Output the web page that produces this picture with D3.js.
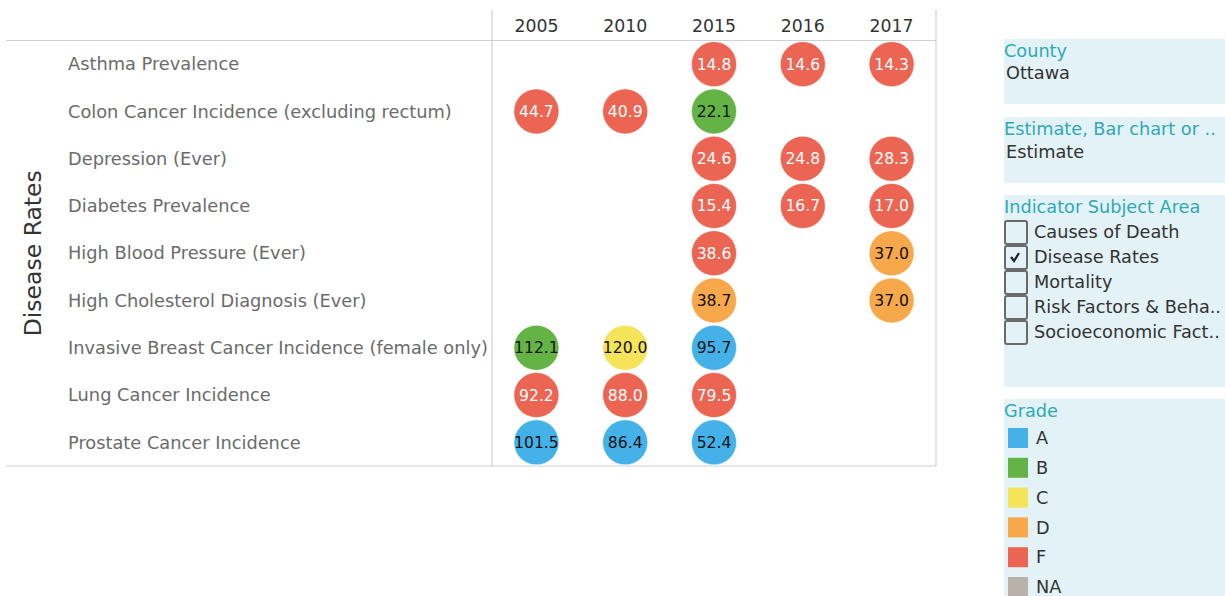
<!DOCTYPE html>
<html>
<head>
<meta charset="utf-8">
<script src="https://cdn.jsdelivr.net/npm/d3@7"></script>
<style>
  body { margin: 0; background: #fff; font-family: "DejaVu Sans", sans-serif; }
</style>
</head>
<body>
<svg id="chart" width="1225" height="596"></svg>
<script>
const width = 1225;
const height = 596;

// data
const years = ["2005", "2010", "2015", "2016", "2017"];
const indicators = [
    "Asthma Prevalence",
    "Colon Cancer Incidence (excluding rectum)",
    "Depression (Ever)",
    "Diabetes Prevalence",
    "High Blood Pressure (Ever)",
    "High Cholesterol Diagnosis (Ever)",
    "Invasive Breast Cancer Incidence (female only)",
    "Lung Cancer Incidence",
    "Prostate Cancer Incidence"
];
// one row per indicator, one entry per year (null = no value)
const values = [
    [null, null, 14.8, 14.6, 14.3],
    [44.7, 40.9, 22.1, null, null],
    [null, null, 24.6, 24.8, 28.3],
    [null, null, 15.4, 16.7, 17.0],
    [null, null, 38.6, null, 37.0],
    [null, null, 38.7, null, 37.0],
    [112.1, 120.0, 95.7, null, null],
    [92.2, 88.0, 79.5, null, null],
    [101.5, 86.4, 52.4, null, null]
];
const grades = [
    [null, null, "F", "F", "F"],
    ["F", "F", "B", null, null],
    [null, null, "F", "F", "F"],
    [null, null, "F", "F", "F"],
    [null, null, "F", null, "D"],
    [null, null, "D", null, "D"],
    ["B", "C", "A", null, null],
    ["F", "F", "F", null, null],
    ["A", "A", "A", null, null]
];
const gradeNames = ["A", "B", "C", "D", "F", "NA"];
const gradeColors = ["#45b1e9", "#64b345", "#f5e35a", "#f7a84a", "#ec6553", "#bab0ac"];
const subjectAreas = ["Causes of Death", "Disease Rates", "Mortality", "Risk Factors & Beha..", "Socioeconomic Fact.."];
const checkedArea = "Disease Rates";

const color = d3.scaleOrdinal().domain(gradeNames).range(gradeColors);

const svg = d3.select("#chart");

// grid frame
const x = d3.scaleBand().domain(years).range([492, 936]);
const y = d3.scaleBand().domain(indicators).range([40.5, 466]);

const frame = svg.append("g").attr("stroke", "#d0d0d0").attr("stroke-width", 1.2);
frame.append("line").attr("x1", 6).attr("x2", 936).attr("y1", 40.5).attr("y2", 40.5);
frame.append("line").attr("x1", 6).attr("x2", 936).attr("y1", 466).attr("y2", 466);
frame.append("line").attr("x1", 492).attr("x2", 492).attr("y1", 10).attr("y2", 466);
frame.append("line").attr("x1", 936).attr("x2", 936).attr("y1", 10).attr("y2", 466);

// column headers
svg.append("g").selectAll("text")
    .data(years)
    .enter().append("text")
    .attr("x", d => x(d) + x.bandwidth() / 2)
    .attr("y", 32)
    .attr("text-anchor", "middle")
    .attr("font-size", 17.3)
    .attr("fill", "#333")
    .text(d => d);

// row labels
svg.append("g").selectAll("text")
    .data(indicators)
    .enter().append("text")
    .attr("x", 68)
    .attr("y", d => y(d) + y.bandwidth() / 2)
    .attr("dy", "0.35em")
    .attr("font-size", 17.8)
    .attr("fill", "#6b6b6b")
    .text(d => d);

svg.append("text")
    .attr("transform", "translate(41," + (40.5 + 466) / 2 + ") rotate(-90)")
    .attr("text-anchor", "middle")
    .attr("font-size", 23.5)
    .attr("fill", "#333")
    .text("Disease Rates");

// cells
const cells = [];
indicators.forEach((ind, i) => {
    years.forEach((yr, j) => {
        if (values[i][j] != null) {
            cells.push({ indicator: ind, year: yr, value: values[i][j], grade: grades[i][j] });
        }
    });
});

const cell = svg.append("g").selectAll("g")
    .data(cells)
    .enter().append("g")
    .attr("transform", d => `translate(${x(d.year) + x.bandwidth() / 2},${y(d.indicator) + y.bandwidth() / 2})`);

cell.append("circle")
    .attr("r", 22.5)
    .attr("fill", d => color(d.grade))
    .attr("stroke", "#fff")
    .attr("stroke-opacity", 0.5)
    .attr("stroke-width", 1);

cell.append("text")
    .attr("text-anchor", "middle")
    .attr("dy", "0.35em")
    .attr("font-size", 15.6)
    .attr("fill", d => d.grade === "F" ? "#fff" : "#111")
    .text(d => d.value.toFixed(1));

// right side filter panels
const panelX = 1004;
const panelW = 230;
const panels = [
    { title: "County", y0: 39, y1: 104 },
    { title: "Estimate, Bar chart or ..", y0: 117, y1: 183 },
    { title: "Indicator Subject Area", y0: 195, y1: 387 },
    { title: "Grade", y0: 399, y1: 600 }
];
const panel = svg.append("g").selectAll("g")
    .data(panels)
    .enter().append("g");
panel.append("rect")
    .attr("x", panelX)
    .attr("y", d => d.y0)
    .attr("width", panelW)
    .attr("height", d => d.y1 - d.y0)
    .attr("fill", "#e3f2f6");
panel.append("text")
    .attr("x", panelX)
    .attr("y", d => d.y0 + 18)
    .attr("font-size", 17.7)
    .attr("fill", "#2ea9b8")
    .text(d => d.title);

svg.append("text").attr("x", 1006).attr("y", 79).attr("font-size", 17.7).attr("fill", "#333").text("Ottawa");
svg.append("text").attr("x", 1006).attr("y", 158).attr("font-size", 17.7).attr("fill", "#333").text("Estimate");

// checkbox list
const areaY = d3.scalePoint().domain(subjectAreas).range([232, 332]);
const area = svg.append("g").selectAll("g")
    .data(subjectAreas)
    .enter().append("g")
    .attr("transform", d => `translate(1004,${areaY(d)})`);
area.append("rect")
    .attr("x", 1).attr("y", -11)
    .attr("width", 22).attr("height", 23)
    .attr("rx", 2)
    .attr("fill", "#e3f2f6")
    .attr("stroke", "#6a6a6a")
    .attr("stroke-width", 2);
area.filter(d => d === checkedArea).append("path")
    .attr("d", "M7,0 L10,4 L15,-4")
    .attr("fill", "none")
    .attr("stroke", "#222")
    .attr("stroke-width", 2.2);
area.append("text")
    .attr("x", 30)
    .attr("dy", "0.35em")
    .attr("font-size", 17.7)
    .attr("fill", "#333")
    .text(d => d);

// grade legend
const legY = d3.scalePoint().domain(gradeNames).range([438, 587]);
const leg = svg.append("g").selectAll("g")
    .data(gradeNames)
    .enter().append("g")
    .attr("transform", d => `translate(1008,${legY(d)})`);
leg.append("rect")
    .attr("x", 0).attr("y", -10)
    .attr("width", 20).attr("height", 20)
    .attr("fill", d => color(d));
leg.append("text")
    .attr("x", 28)
    .attr("dy", "0.35em")
    .attr("font-size", 17.7)
    .attr("fill", "#333")
    .text(d => d);
</script>
</body>
</html>
